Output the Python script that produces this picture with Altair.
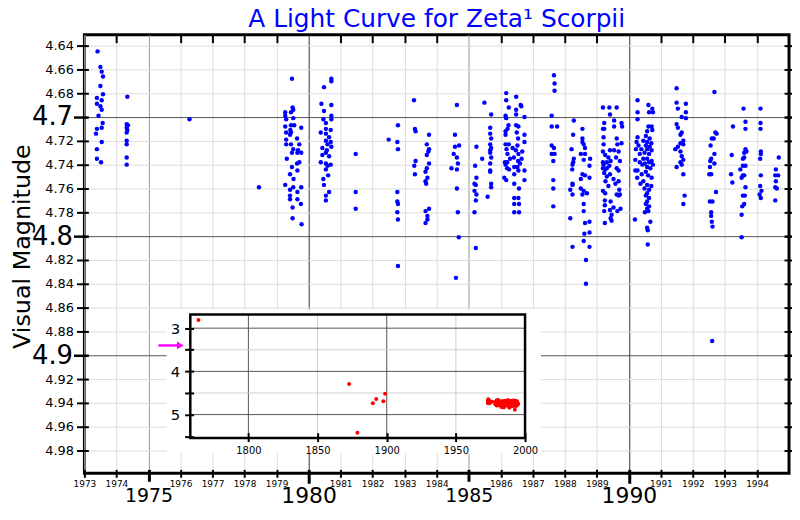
import altair as alt
import pandas as pd

# ---------------- data ----------------
main_years = [
    1973.41, 1973.50, 1973.54, 1973.58, 1973.50, 1973.58, 1973.39, 1973.54, 1973.39, 1973.50,
    1973.54, 1973.44, 1973.57, 1973.54, 1973.39, 1973.36, 1973.54, 1973.39, 1973.39, 1973.52,
    1974.34, 1974.32, 1974.36, 1974.32, 1974.34, 1974.32, 1974.32, 1974.32, 1974.32, 1974.32,
    1976.28, 1978.45,
    1979.48, 1979.50, 1979.52, 1979.45, 1979.27, 1979.27, 1979.52, 1979.30, 1979.45, 1979.55,
    1979.27, 1979.77, 1979.43, 1979.45, 1979.30, 1979.42, 1979.30, 1979.64, 1979.30, 1979.45,
    1979.71, 1979.52, 1979.67, 1979.77, 1979.48, 1979.65, 1979.32, 1979.71, 1979.64, 1979.48,
    1979.65, 1979.42, 1979.53, 1979.27, 1979.52, 1979.77, 1979.42, 1979.65, 1979.42, 1979.42,
    1979.65, 1979.76, 1979.50, 1979.50, 1979.78,
    1980.71, 1980.71, 1980.48, 1980.40, 1980.71, 1980.48, 1980.71, 1980.71, 1980.46, 1980.54,
    1980.54, 1980.69, 1980.38, 1980.54, 1980.64, 1980.54, 1980.69, 1980.59, 1980.71, 1980.43,
    1980.57, 1980.54, 1980.43, 1980.64, 1980.38, 1980.54, 1980.69, 1980.59, 1980.54, 1980.61,
    1980.46, 1980.48, 1980.64, 1980.54, 1980.54,
    1981.47, 1981.47, 1981.47,
    1982.79, 1982.50, 1982.77, 1982.79, 1982.77, 1982.77, 1982.79, 1982.77, 1982.79, 1982.79,
    1983.29, 1983.32, 1983.34, 1983.76, 1983.69, 1983.76, 1983.74, 1983.69, 1983.34, 1983.76,
    1983.30, 1983.69, 1983.65, 1983.32, 1983.71, 1983.65, 1983.67, 1983.76, 1983.65, 1983.71,
    1983.71, 1983.65,
    1984.63, 1984.57, 1984.57, 1984.70, 1984.53, 1984.63, 1984.66, 1984.46, 1984.63, 1984.63,
    1984.66, 1984.69, 1984.60,
    1985.49, 1985.70, 1985.67, 1985.67, 1985.70, 1985.67, 1985.70, 1985.67, 1985.67, 1985.24,
    1985.42, 1985.70, 1985.67, 1985.20, 1985.67, 1985.67, 1985.24, 1985.18, 1985.22, 1985.70,
    1985.70, 1985.18, 1985.24, 1985.59, 1985.22, 1985.18, 1985.22,
    1986.17, 1986.48, 1986.17, 1986.62, 1986.64, 1986.25, 1986.48, 1986.48, 1986.15, 1986.74,
    1986.17, 1986.24, 1986.48, 1986.55, 1986.21, 1986.15, 1986.15, 1986.50, 1986.74, 1986.54,
    1986.74, 1986.15, 1986.25, 1986.52, 1986.18, 1986.37, 1986.67, 1986.47, 1986.21, 1986.55,
    1986.41, 1986.65, 1986.54, 1986.13, 1986.20, 1986.29, 1986.60, 1986.15, 1986.42, 1986.52,
    1986.20, 1986.26, 1986.55, 1986.74, 1986.42, 1986.11, 1986.17, 1986.74, 1986.42, 1986.57,
    1986.42, 1986.55, 1986.42, 1986.57, 1986.42, 1986.57,
    1987.66, 1987.68, 1987.68, 1987.59, 1987.59, 1987.76, 1987.59, 1987.66, 1987.59, 1987.68,
    1987.64, 1987.64, 1987.64, 1987.64,
    1988.28, 1988.26, 1988.55, 1988.55, 1988.55, 1988.59, 1988.63, 1988.21, 1988.50, 1988.63,
    1988.79, 1988.28, 1988.59, 1988.26, 1988.24, 1988.77, 1988.23, 1988.55, 1988.63, 1988.77,
    1988.50, 1988.24, 1988.24, 1988.50, 1988.17, 1988.59, 1988.24, 1988.69, 1988.55, 1988.59,
    1988.59, 1988.17, 1988.63, 1988.77, 1988.61, 1988.77, 1988.59, 1988.24, 1988.77, 1988.66,
    1988.66,
    1989.19, 1989.39, 1989.62, 1989.41, 1989.54, 1989.23, 1989.77, 1989.79, 1989.54, 1989.19,
    1989.23, 1989.21, 1989.62, 1989.77, 1989.21, 1989.64, 1989.41, 1989.19, 1989.26, 1989.54,
    1989.68, 1989.36, 1989.60, 1989.72, 1989.43, 1989.19, 1989.31, 1989.21, 1989.39, 1989.19,
    1989.31, 1989.62, 1989.26, 1989.68, 1989.23, 1989.41, 1989.31, 1989.52, 1989.27, 1989.68,
    1989.58, 1989.36, 1989.19, 1989.70, 1989.26, 1989.72, 1989.62, 1989.68, 1989.25, 1989.43,
    1989.25, 1989.52, 1989.74, 1989.41, 1989.64, 1989.23, 1989.46, 1989.43, 1989.46, 1989.25,
    1990.27, 1990.61, 1990.73, 1990.27, 1990.63, 1990.75, 1990.27, 1990.61, 1990.71, 1990.57,
    1990.73, 1990.27, 1990.53, 1990.65, 1990.24, 1990.45, 1990.57, 1990.70, 1990.30, 1990.53,
    1990.65, 1990.22, 1990.39, 1990.57, 1990.71, 1990.49, 1990.34, 1990.63, 1990.20, 1990.45,
    1990.57, 1990.71, 1990.34, 1990.63, 1990.50, 1990.75, 1990.42, 1990.57, 1990.20, 1990.27,
    1990.67, 1990.53, 1990.40, 1990.60, 1990.26, 1990.71, 1990.45, 1990.36, 1990.57, 1990.70,
    1990.49, 1990.63, 1990.57, 1990.53, 1990.63, 1990.57, 1990.53, 1990.63, 1990.57, 1990.50,
    1990.61, 1990.19, 1990.67, 1990.57, 1990.59, 1990.59,
    1991.49, 1991.49, 1991.78, 1991.53, 1991.78, 1991.65, 1991.78, 1991.49, 1991.53, 1991.65,
    1991.61, 1991.70, 1991.61, 1991.53, 1991.70, 1991.45, 1991.61, 1991.65, 1991.70, 1991.61,
    1991.65, 1991.49, 1991.70, 1991.74, 1991.70,
    1992.67, 1992.70, 1992.74, 1992.65, 1992.59, 1992.55, 1992.67, 1992.57, 1992.54, 1992.67,
    1992.53, 1992.51, 1992.57, 1992.72, 1992.53, 1992.61, 1992.57, 1992.57, 1992.59, 1992.61,
    1992.60,
    1993.25, 1993.21, 1993.19, 1993.23, 1993.58, 1993.64, 1993.64, 1993.64, 1993.67, 1993.60,
    1993.56, 1993.60, 1993.64, 1993.56, 1993.48, 1993.60, 1993.52, 1993.56, 1993.64, 1993.56,
    1993.62, 1993.60, 1993.54, 1993.52, 1993.52,
    1994.11, 1994.11, 1994.11, 1994.12, 1994.12, 1994.10, 1994.12, 1994.10, 1994.14, 1994.08,
    1994.12,
    1994.68, 1994.59, 1994.57, 1994.66, 1994.59, 1994.57, 1994.62, 1994.57,
]
main_mags = [
    4.645, 4.658, 4.662, 4.666, 4.674, 4.681, 4.684, 4.686, 4.689, 4.691,
    4.694, 4.699, 4.705, 4.709, 4.710, 4.714, 4.721, 4.727, 4.735, 4.738,
    4.683, 4.706, 4.707, 4.709, 4.711, 4.713, 4.720, 4.723, 4.734, 4.740,
    4.702, 4.759,
    4.668, 4.692, 4.694, 4.696, 4.696, 4.699, 4.701, 4.702, 4.707, 4.707,
    4.708, 4.709, 4.711, 4.713, 4.713, 4.715, 4.719, 4.718, 4.723, 4.723,
    4.723, 4.727, 4.728, 4.730, 4.730, 4.730, 4.735, 4.738, 4.739, 4.742,
    4.745, 4.748, 4.752, 4.757, 4.759, 4.759, 4.761, 4.763, 4.766, 4.769,
    4.769, 4.773, 4.776, 4.785, 4.790,
    4.668, 4.670, 4.675, 4.689, 4.690, 4.695, 4.699, 4.702, 4.702, 4.705,
    4.710, 4.711, 4.713, 4.714, 4.717, 4.720, 4.721, 4.723, 4.725, 4.726,
    4.728, 4.730, 4.732, 4.733, 4.738, 4.739, 4.740, 4.741, 4.744, 4.749,
    4.752, 4.757, 4.763, 4.766, 4.770,
    4.731, 4.763, 4.777,
    4.707, 4.719, 4.721, 4.727, 4.763, 4.771, 4.773, 4.780, 4.786, 4.825,
    4.686, 4.710, 4.712, 4.715, 4.723, 4.727, 4.729, 4.732, 4.737, 4.739,
    4.741, 4.743, 4.746, 4.748, 4.751, 4.754, 4.756, 4.777, 4.779, 4.783,
    4.786, 4.789,
    4.690, 4.715, 4.725, 4.724, 4.731, 4.734, 4.739, 4.743, 4.744, 4.760,
    4.780, 4.801, 4.835,
    4.688, 4.698, 4.709, 4.714, 4.718, 4.723, 4.726, 4.728, 4.730, 4.725,
    4.735, 4.734, 4.739, 4.741, 4.745, 4.746, 4.751, 4.756, 4.757, 4.756,
    4.759, 4.762, 4.765, 4.767, 4.770, 4.780, 4.810,
    4.680, 4.683, 4.686, 4.690, 4.691, 4.692, 4.694, 4.698, 4.699, 4.700,
    4.701, 4.707, 4.707, 4.708, 4.710, 4.712, 4.715, 4.713, 4.715, 4.718,
    4.721, 4.723, 4.723, 4.724, 4.727, 4.726, 4.729, 4.728, 4.731, 4.731,
    4.734, 4.735, 4.737, 4.738, 4.738, 4.735, 4.739, 4.740, 4.742, 4.742,
    4.743, 4.744, 4.745, 4.745, 4.748, 4.751, 4.753, 4.753, 4.756, 4.760,
    4.768, 4.768, 4.773, 4.773, 4.780, 4.780,
    4.665, 4.672, 4.678, 4.699, 4.708, 4.708, 4.724, 4.726, 4.731, 4.731,
    4.737, 4.753, 4.760, 4.775,
    4.703, 4.715, 4.710, 4.718, 4.721, 4.723, 4.726, 4.727, 4.731, 4.731,
    4.735, 4.735, 4.736, 4.738, 4.740, 4.741, 4.744, 4.748, 4.749, 4.751,
    4.752, 4.756, 4.757, 4.760, 4.761, 4.762, 4.765, 4.764, 4.765, 4.773,
    4.779, 4.785, 4.789, 4.788, 4.798, 4.797, 4.804, 4.809, 4.809, 4.820,
    4.840,
    4.692, 4.692, 4.692, 4.698, 4.703, 4.705, 4.705, 4.708, 4.708, 4.710,
    4.710, 4.717, 4.718, 4.722, 4.723, 4.723, 4.728, 4.729, 4.732, 4.728,
    4.729, 4.734, 4.734, 4.737, 4.737, 4.738, 4.738, 4.740, 4.741, 4.743,
    4.743, 4.743, 4.744, 4.745, 4.747, 4.748, 4.750, 4.752, 4.754, 4.754,
    4.756, 4.758, 4.762, 4.761, 4.764, 4.765, 4.765, 4.766, 4.770, 4.771,
    4.774, 4.776, 4.777, 4.778, 4.779, 4.779, 4.782, 4.785, 4.787, 4.789,
    4.686, 4.690, 4.693, 4.696, 4.696, 4.696, 4.702, 4.708, 4.708, 4.712,
    4.711, 4.717, 4.716, 4.718, 4.721, 4.720, 4.721, 4.722, 4.724, 4.724,
    4.725, 4.727, 4.727, 4.727, 4.728, 4.730, 4.731, 4.731, 4.736, 4.735,
    4.735, 4.737, 4.738, 4.738, 4.739, 4.740, 4.740, 4.742, 4.745, 4.745,
    4.743, 4.746, 4.748, 4.749, 4.751, 4.751, 4.754, 4.756, 4.757, 4.758,
    4.760, 4.761, 4.764, 4.766, 4.768, 4.771, 4.773, 4.775, 4.777, 4.780,
    4.779, 4.786, 4.788, 4.793, 4.795, 4.807,
    4.676, 4.688, 4.689, 4.693, 4.696, 4.700, 4.701, 4.706, 4.709, 4.713,
    4.715, 4.720, 4.722, 4.725, 4.723, 4.727, 4.729, 4.733, 4.736, 4.738,
    4.740, 4.742, 4.748, 4.766, 4.773,
    4.679, 4.713, 4.714, 4.718, 4.718, 4.724, 4.731, 4.735, 4.737, 4.739,
    4.742, 4.748, 4.748, 4.763, 4.771, 4.771, 4.780, 4.783, 4.788, 4.792,
    4.888,
    4.708, 4.732, 4.748, 4.755, 4.693, 4.704, 4.710, 4.727, 4.729, 4.730,
    4.735, 4.734, 4.741, 4.741, 4.744, 4.749, 4.751, 4.749, 4.759, 4.766,
    4.766, 4.773, 4.775, 4.782, 4.801,
    4.693, 4.705, 4.710, 4.729, 4.731, 4.735, 4.749, 4.758, 4.762, 4.765,
    4.768,
    4.734, 4.744, 4.749, 4.749, 4.754, 4.759, 4.760, 4.770,
]

hist_years = [1763.9, 1872.8, 1878.8, 1890.0, 1892.4, 1897.6, 1898.8]
hist_mags = [2.81, 4.29, 5.42, 4.74, 4.64, 4.69, 4.52]

x_tick_years = list(range(1973, 1995))
top_tick_years = [y for y in range(1974, 1995) if y % 5 != 0]
y_tick_mags = [4.64, 4.66, 4.68, 4.70, 4.72, 4.74, 4.76, 4.78, 4.80,
               4.82, 4.84, 4.86, 4.88, 4.90, 4.92, 4.94, 4.96, 4.98]

inset_x_ticks = [1800, 1850, 1900, 1950, 2000]
inset_y_ticks = [3, 3.5, 4, 4.5, 5, 5.5]
inset_vgrid = [1800, 1850, 1900, 1950]
inset_vgrid_major = [True, False, True, False]
inset_hgrid = [3, 3.5, 4, 4.5, 5]
inset_hgrid_major = [True, False, True, False, True]

arrow_mag = [3.4]

# ---------------- scales ----------------
X_DOM = [1973, 1995]
Y_DOM = [4.631, 4.999]
IN_X_DOM = [1758, 2000]
IN_Y_DOM = [2.685, 5.54]
BG_X = [1740.9, 2011.5]
BG_Y = [2.57, 5.90]
ARROW_X = [1734.9, 1748.6, 1750.8]

W, H = 710, 442

main_x = alt.Scale(domain=X_DOM, nice=False, zero=False)
main_y = alt.Scale(domain=Y_DOM, reverse=True, nice=False, zero=False)
in_x = alt.Scale(domain=IN_X_DOM, range=[106.7, 444], nice=False, zero=False)
in_y = alt.Scale(domain=IN_Y_DOM, range=[282, 406.3], nice=False, zero=False)

main_df = pd.DataFrame({"year": main_years, "mag": main_mags})
inset_df = pd.DataFrame({"year": hist_years + main_years, "mag": hist_mags + main_mags})

DEC = "datum.value % 10 == 0"
HALF = "datum.value % 5 == 0"
MAJ_Y = "abs(datum.value * 10 - round(datum.value * 10)) < 0.001"

x_axis = alt.Axis(
    values=x_tick_years, orient="bottom", offset=-4, domain=False,
    labelExpr="format(datum.value, 'd')",
    tickColor="black",
    tickSize={"condition": [{"test": DEC, "value": 14}, {"test": HALF, "value": 12}], "value": 8},
    tickWidth={"condition": {"test": HALF, "value": 3}, "value": 2},
    labelFontSize={"condition": [{"test": DEC, "value": 22}, {"test": HALF, "value": 19}], "value": 9},
    labelPadding={"condition": [{"test": DEC, "value": 12.7}, {"test": HALF, "value": 14.5}], "value": 6.1},
    labelBaseline="middle", labelColor="black", labelFlush=False, labelOverlap=False,
    grid=True,
    gridColor={"condition": [{"test": DEC, "value": "#333333"}, {"test": HALF, "value": "#999999"}], "value": "#dddddd"},
    gridWidth=1, title=None,
)

y_axis = alt.Axis(
    values=y_tick_mags, orient="left", offset=-4, domain=False,
    labelExpr="format(datum.value, '.2~f')",
    tickColor="black",
    tickSize={"condition": {"test": MAJ_Y, "value": 15}, "value": 12},
    tickWidth={"condition": {"test": MAJ_Y, "value": 2.5}, "value": 2},
    labelFontSize={"condition": {"test": MAJ_Y, "value": 26}, "value": 13},
    labelPadding={"condition": {"test": MAJ_Y, "value": 1}, "value": 3},
    labelColor="black", labelFlush=False, labelOverlap=False,
    grid=True,
    gridColor={"condition": {"test": MAJ_Y, "value": "#555555"}, "value": "#dddddd"},
    gridWidth=1,
    title="Visual Magnitude", titleFontSize=24, titleFontWeight="normal", titleColor="black",
    titleAngle=270, titleAlign="center", titleBaseline="alphabetic", titleX=-59, titleY=213,
)

main_layer = alt.Chart(main_df).mark_circle(size=20, color="#0000ff", opacity=1).encode(
    x=alt.X("year:Q", scale=main_x, axis=x_axis),
    y=alt.Y("mag:Q", scale=main_y, axis=y_axis),
)

frame_axes = alt.Chart(main_df).mark_circle(opacity=0).encode(
    x=alt.X("year:Q", scale=main_x, axis=alt.Axis(
        values=top_tick_years, orient="top", offset=-8, tickSize=8, tickWidth=2,
        tickColor="black", labels=False, domain=False, grid=False, title=None)),
    y=alt.Y("mag:Q", scale=main_y, axis=alt.Axis(
        values=y_tick_mags, orient="right", offset=-5, tickColor="black",
        tickSize={"condition": {"test": MAJ_Y, "value": 11}, "value": 8},
        tickWidth={"condition": {"test": MAJ_Y, "value": 2.5}, "value": 2},
        labels=False, domain=False, grid=False, title=None)),
)

bg_df = pd.DataFrame({"x0": [BG_X[0]], "x1": [BG_X[1]], "y0": [BG_Y[0]], "y1": [BG_Y[1]]})
inset_bg = alt.Chart(bg_df).mark_rect(color="white", opacity=1).encode(
    x=alt.X("x0:Q", scale=in_x, axis=None), x2="x1:Q",
    y=alt.Y("y0:Q", scale=in_y, axis=None), y2="y1:Q",
)

vg_df = pd.DataFrame({
    "x": inset_vgrid,
    "c": ["#555555" if m else "#d0d0d0" for m in inset_vgrid_major],
    "y0": [IN_Y_DOM[0]] * len(inset_vgrid), "y1": [IN_Y_DOM[1]] * len(inset_vgrid),
})
hg_df = pd.DataFrame({
    "y": inset_hgrid,
    "c": ["#555555" if m else "#d0d0d0" for m in inset_hgrid_major],
    "x0": [IN_X_DOM[0]] * len(inset_hgrid), "x1": [IN_X_DOM[1]] * len(inset_hgrid),
})
inset_vgrid_layer = alt.Chart(vg_df).mark_rule(strokeWidth=1).encode(
    x=alt.X("x:Q", scale=in_x, axis=None),
    y=alt.Y("y0:Q", scale=in_y, axis=None), y2="y1:Q",
    color=alt.Color("c:N", scale=None),
)
inset_hgrid_layer = alt.Chart(hg_df).mark_rule(strokeWidth=1).encode(
    y=alt.Y("y:Q", scale=in_y, axis=None),
    x=alt.X("x0:Q", scale=in_x, axis=None), x2="x1:Q",
    color=alt.Color("c:N", scale=None),
)

inset_pts = alt.Chart(inset_df).mark_circle(size=16, color="#ff0000", opacity=1).encode(
    x=alt.X("year:Q", scale=in_x, axis=alt.Axis(
        values=inset_x_ticks, orient="bottom", offset=-41, tickSize=9, tickWidth=2,
        tickColor="black", domain=False, grid=False, labelExpr="format(datum.value, 'd')",
        labelFontSize=10, labelPadding=8.5, labelBaseline="middle", labelColor="black",
        labelFlush=False, labelOverlap=False, title=None, zindex=1)),
    y=alt.Y("mag:Q", scale=in_y, axis=alt.Axis(
        values=inset_y_ticks, orient="left", offset=-110, tickSize=9, tickWidth=2,
        tickColor="black", domain=False, grid=False,
        labelExpr="datum.value % 1 == 0 ? format(datum.value, 'd') : ''",
        labelFontSize=15, labelPadding=5, labelColor="black",
        labelFlush=False, labelOverlap=False, title=None, zindex=1)),
)

frame_df = pd.DataFrame({"x0": [IN_X_DOM[0]], "x1": [IN_X_DOM[1]],
                         "y0": [IN_Y_DOM[0]], "y1": [IN_Y_DOM[1]]})
inset_frame = alt.Chart(frame_df).mark_rect(filled=False, stroke="black", strokeWidth=2.5).encode(
    x=alt.X("x0:Q", scale=in_x, axis=None), x2="x1:Q",
    y=alt.Y("y0:Q", scale=in_y, axis=None), y2="y1:Q",
)

arrow_df = pd.DataFrame({"x0": [ARROW_X[0]], "x1": [ARROW_X[1]], "xh": [ARROW_X[2]], "m": arrow_mag})
arrow_line = alt.Chart(arrow_df).mark_rule(color="#ff00ff", strokeWidth=2.5).encode(
    x=alt.X("x0:Q", scale=in_x, axis=None), x2="x1:Q",
    y=alt.Y("m:Q", scale=in_y, axis=None),
)
arrow_head = alt.Chart(arrow_df).mark_point(shape="triangle-right", filled=True, size=60,
                                              color="#ff00ff", opacity=1).encode(
    x=alt.X("xh:Q", scale=in_x, axis=None),
    y=alt.Y("m:Q", scale=in_y, axis=None),
)

chart = alt.layer(
    main_layer, frame_axes, inset_bg, inset_vgrid_layer, inset_hgrid_layer,
    inset_pts, inset_frame, arrow_line, arrow_head,
).resolve_scale(
    x="independent", y="independent"
).resolve_axis(
    x="independent", y="independent"
).properties(
    width=W, height=H,
    autosize=alt.AutoSizeParams(type="none"),
    padding={"left": 77, "top": 25, "right": 3, "bottom": 32},
    title=alt.TitleParams(
        text="A Light Curve for Zeta¹ Scorpii", fontSize=25, color="#0000ff",
        fontWeight="normal", anchor="middle", frame="group", offset=7, dy=25.5,
        baseline="alphabetic", font="DejaVu Sans",
    ),
).configure(
    font="DejaVu Sans",
).configure_view(
    stroke="black", strokeWidth=3,
).configure_axis(
    labelFont="DejaVu Sans", titleFont="DejaVu Sans",
)

chart.save("out.html", embed_options={"renderer": "svg", "actions": False})
